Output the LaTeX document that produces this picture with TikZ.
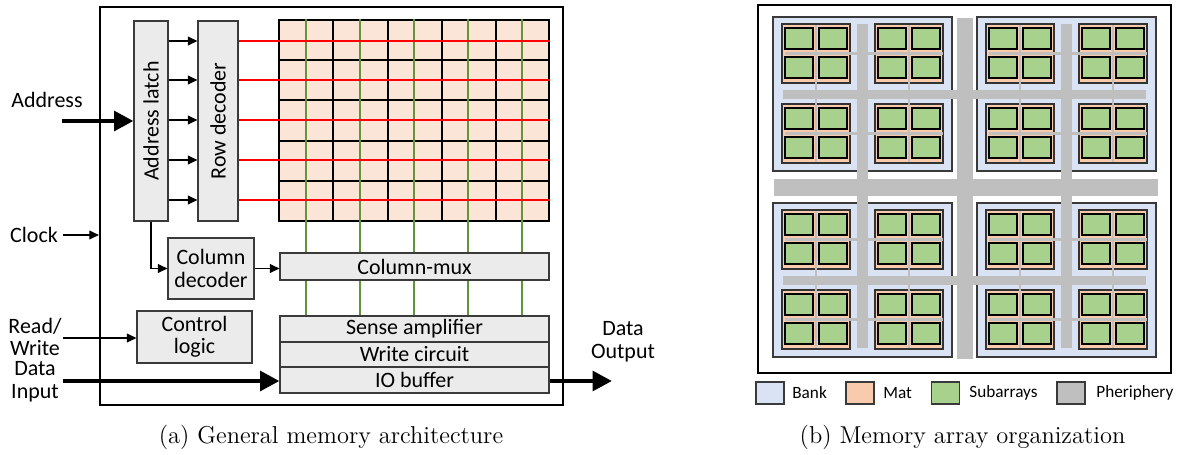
\documentclass[tikz,border=0pt]{standalone}
\usepackage{fontspec}
\usepackage{graphicx}
\newfontfamily\calibri{Carlito}
\usetikzlibrary{arrows.meta}
\newdimen\pxu \pxu=0.02cm

\definecolor{boxfill}{HTML}{EBEBEB}
\definecolor{boxline}{HTML}{3A3A3A}
\definecolor{cellfill}{HTML}{FBE5D6}
\definecolor{bitgreen}{RGB}{98,148,58}
\definecolor{bankfill}{HTML}{DAE3F3}
\definecolor{matfill}{HTML}{F8CBAD}
\definecolor{subfill}{HTML}{A9D18E}
\definecolor{perigray}{HTML}{BFBFBF}

\begin{document}
\begin{tikzpicture}[x=0.02cm,y=-0.02cm,
  sz/.style 2 args={minimum width=#1*\pxu, minimum height=#2*\pxu},
  box/.style={draw=boxline, fill=boxfill, line width=0.6pt, inner sep=0pt,
    font=\calibri\fontsize{12.5}{12.8}\selectfont, align=center},
  lbl/.style={font=\calibri\fontsize{12.5}{12.8}\selectfont, align=center, inner sep=0pt},
  frame/.style={draw=black, line width=1.2pt, inner sep=0pt},
  arr/.style={-{Triangle[length=5.5pt,width=5pt]}, line width=0.8pt},
  bigarrow/.style={-{Triangle[length=11pt,width=11pt]}, line width=2.6pt},
  wordline/.style={red, line width=1.1pt},
  bitline/.style={bitgreen, line width=1.1pt},
  cellline/.style={black, line width=0.7pt},
  bank/.style={draw=boxline, fill=bankfill, line width=0.7pt},
  mat/.style={draw=black!80, fill=matfill, line width=0.8pt},
  sub/.style={draw=black, fill=subfill, line width=0.9pt},
  peri/.style={fill=perigray},
  thinperi/.style={draw=perigray, line width=1.6pt},
  legbox/.style={draw=boxline, line width=0.6pt, inner sep=0pt},
  legtext/.style={font=\calibri\fontsize{9.8}{11}\selectfont, inner sep=0pt, anchor=west},
  caption/.style={font=\fontsize{13.9}{16}\selectfont, inner sep=0pt}]
\useasboundingbox (0,0) rectangle (1181,454);

% ---------- (a) general memory architecture ----------
\node[frame, sz={463}{398}] (chip) at (331.5,206) {};

\node[box, sz={34}{200}] (latch) at (151,121) {\rotatebox{90}{Address latch}};
\node[box, sz={40}{200}] (rowdec) at (218,121) {\rotatebox{90}{Row decoder}};

% cell array
\node[draw=black, fill=cellfill, line width=0.7pt, inner sep=0pt, sz={270}{201}] (cells) at (414,120.5) {};
\foreach \x in {333,388,442,496} \draw[cellline] (\x,20) -- (\x,221);
\foreach \y in {60,100,141,181} \draw[cellline] (279,\y) -- (549,\y);

\node[box, sz={269}{26}] (sense) at (414.5,329) {Sense amplifier};
\node[box, sz={269}{25}] (write) at (414.5,354.5) {Write circuit};
\node[box, sz={269}{26}] (iobuf) at (414.5,380) {IO buffer};

% bit lines
\foreach \x in {306,360,414,468,522}
  \draw[bitline] (cells.north -| \x,0) -- (sense.north -| \x,0);

% address latch to row decoder, and word lines
\foreach \y in {41,80,120,160,200} {
  \draw[arr] (latch.east |- 0,\y) -- (rowdec.west |- 0,\y);
  \draw[wordline] (rowdec.east |- 0,\y) -- (cells.east |- 0,\y);
}

\node[box, sz={269}{27}] (colmux) at (414.5,266.5) {Column-mux};
\node[box, sz={86}{61}] (coldec) at (211,268.5) {Column\\decoder};
\node[box, sz={115}{52}] (ctrl) at (194.5,337) {Control\\logic};

\draw[arr] (latch.south) |- (coldec.west);
\draw[arr] (coldec.east) -- (coldec.east -| colmux.west);

% external signals
\node[lbl] (addrlbl) at (47,100) {Address};
\node[lbl] (clklbl) at (34,235) {Clock};
\node[lbl] (rwlbl) at (35,337) {Read/\\Write};
\node[lbl] (dinlbl) at (35,381.5) {Data\\Input};
\node[lbl] (doutlbl) at (623,341.5) {Data\\Output};

\coordinate (addrin) at (62,121);
\coordinate (clkin) at (63,235);
\coordinate (rwin) at (63,338);
\coordinate (din) at (63,381);
\coordinate (dout) at (612,381);

\draw[bigarrow] (addrin) -- (latch.west);
\draw[arr] (clkin) -- (clkin -| chip.west);
\draw[arr] (rwin) -- (rwin -| ctrl.west);
\draw[bigarrow] (din) -- (din -| iobuf.west);
\draw[bigarrow] (iobuf.east |- dout) -- (dout);

\node[caption] (capa) at (331,437.5) {(a) General memory architecture};

% ---------- (b) memory array organization ----------
\draw[line width=1.2pt] (758,5) rectangle (1171,373);

% main periphery bars
\fill[peri] (774,179) rectangle (1158,196);
\fill[peri] (957,18) rectangle (973,359);

\foreach \ox/\oy/\vya/\vyb/\hxa/\hxb in
  {773/17/24/179/783/957, 977/17/24/179/973/1146,
   773/203/196/348/783/957, 977/203/196/348/973/1146} {
  \draw[bank] (\ox,\oy) rectangle ++(179,154);
  \fill[peri] (\ox+84,\vya) rectangle (\ox+95,\vyb);
  \fill[peri] (\hxa,\oy+73) rectangle (\hxb,\oy+82);
  \foreach \mx in {9,102} \foreach \my in {7,87}
    \draw[mat] (\ox+\mx,\oy+\my) rectangle ++(68,59);
  \foreach \mx in {9,102}
    \draw[thinperi] (\ox+\mx+34,\oy+8) -- (\ox+\mx+34,\oy+145);
  \foreach \my in {7,87}
    \draw[thinperi] (\ox+12,\oy+\my+29.5) -- (\ox+170,\oy+\my+29.5);
  \foreach \mx in {9,102} \foreach \my in {7,87}
    \foreach \sx in {3,37} \foreach \sy in {4,33}
      \draw[sub] (\ox+\mx+\sx,\oy+\my+\sy) rectangle ++(28,21);
}

% legend
\node[legbox, fill=bankfill, sz={28}{22}] (lgbank) at (770,393) {};
\node[legtext] (lgbanktxt) at (792,393) {Bank};
\node[legbox, fill=matfill, sz={28}{22}] (lgmat) at (860,393) {};
\node[legtext] (lgmattxt) at (883,393) {Mat};
\node[legbox, fill=subfill, sz={28}{22}] (lgsub) at (945.5,393) {};
\node[legtext] (lgsubtxt) at (969,393) {Subarrays};
\node[legbox, fill=perigray, sz={28}{22}] (lgperi) at (1071,393) {};
\node[legtext] (lgperitxt) at (1096,393) {Pheriphery};

\node[caption] (capb) at (962.5,437.5) {(b) Memory array organization};
\end{tikzpicture}
\end{document}
